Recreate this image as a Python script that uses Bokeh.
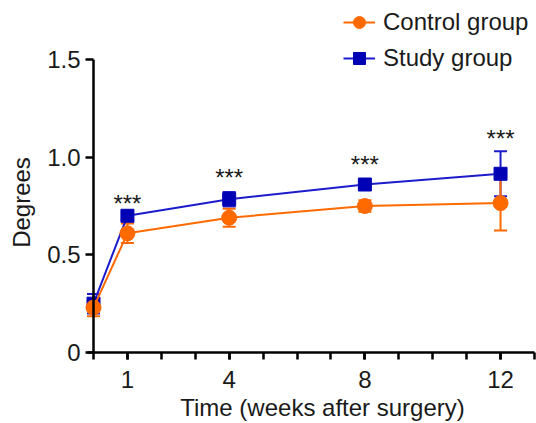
import math
from bokeh.plotting import figure
from bokeh.models import (Range1d, FixedTicker, Whisker, TeeHead, ColumnDataSource,
                          Legend, LegendItem, Label)
from bokeh.core.properties import value
from bokeh.embed import file_html
from bokeh.resources import INLINE

# ---- data ----
weeks = [0, 1, 4, 8, 12]
control_mean = [0.23, 0.61, 0.69, 0.75, 0.765]
control_err = [0.045, 0.05, 0.046, 0.03, 0.14]
study_mean = [0.25, 0.70, 0.785, 0.86, 0.915]
study_err = [0.05, 0.02, 0.037, 0.015, 0.115]

sig_weeks = [1, 4, 8, 12]
sig_text = ["***", "***", "***", "***"]
sig_y = [0.765, 0.895, 0.96, 1.095]

x_label_ticks = [1, 4, 8, 12]
x_minor_ticks = list(range(0, 14))
y_ticks = [0, 0.5, 1.0, 1.5]
y_tick_labels = ["0", "0.5", "1.0", "1.5"]
x_title = "Time (weeks after surgery)"
y_title = "Degrees"

FONT = "Liberation Sans"
ORANGE = "#ff6a00"
BLUE_LINE = "#1c1ccc"
BLUE_FILL = "#0000b4"
TEXT = "#1a1a1a"

W, H = 536, 423
p = figure(width=W, height=H, output_backend="svg", toolbar_location=None,
           x_range=Range1d(-2.742, 13.06), y_range=Range1d(-0.3635, 1.8021),
           min_border_left=0, min_border_right=0, min_border_top=0, min_border_bottom=0)
p.outline_line_color = None
p.xgrid.visible = False
p.ygrid.visible = False

def err_source(means, errs):
    return ColumnDataSource(dict(x=weeks, y=means,
                                 upper=[m + e for m, e in zip(means, errs)],
                                 lower=[m - e for m, e in zip(means, errs)]))

src_s = err_source(study_mean, study_err)
src_c = err_source(control_mean, control_err)

# study group (drawn first, underneath)
p.add_layout(Whisker(source=src_s, base="x", upper="upper", lower="lower",
                     line_color=BLUE_LINE, line_width=2,
                     upper_head=TeeHead(size=13, line_color=BLUE_LINE, line_width=2),
                     lower_head=TeeHead(size=13, line_color=BLUE_LINE, line_width=2)))
s_line = p.line("x", "y", source=src_s, line_color=BLUE_LINE, line_width=2)
s_pts = p.scatter("x", "y", source=src_s, marker="square", size=13,
                  fill_color=BLUE_FILL, line_color=BLUE_FILL)

# control group
p.add_layout(Whisker(source=src_c, base="x", upper="upper", lower="lower",
                     line_color=ORANGE, line_width=2,
                     upper_head=TeeHead(size=13, line_color=ORANGE, line_width=2),
                     lower_head=TeeHead(size=13, line_color=ORANGE, line_width=2)))
c_line = p.line("x", "y", source=src_c, line_color=ORANGE, line_width=2)
c_pts = p.scatter("x", "y", source=src_c, marker="circle", size=15,
                  fill_color=ORANGE, line_color=ORANGE)

# significance marks
p.text(x=sig_weeks, y=sig_y, text=sig_text, text_align="center",
       text_baseline="alphabetic", text_font=value(FONT),
       text_font_size="24px", text_color=TEXT)

# axes drawn at the data origin
xa = p.xaxis[0]
xa.fixed_location = 0
xa.ticker = FixedTicker(ticks=x_label_ticks, minor_ticks=x_minor_ticks)
xa.bounds = (-0.18, 13.0)
xa.major_tick_out = 7
xa.minor_tick_out = 7
xa.major_label_standoff = 12

ya = p.yaxis[0]
ya.fixed_location = 0
ya.ticker = FixedTicker(ticks=y_ticks, minor_ticks=[])
ya.major_label_overrides = {t: l for t, l in zip(y_ticks, y_tick_labels)}
ya.bounds = (0, 1.5)
ya.major_tick_out = 8
ya.minor_tick_out = 0
ya.major_label_standoff = 5

for ax in (xa, ya):
    ax.axis_line_width = 2.5
    ax.axis_line_color = "black"
    ax.major_tick_line_width = 2.5
    ax.minor_tick_line_width = 2.5
    ax.major_tick_line_color = "black"
    ax.minor_tick_line_color = "black"
    ax.major_tick_in = 0
    ax.minor_tick_in = 0
    ax.major_label_text_font = FONT
    ax.major_label_text_font_size = "24px"
    ax.major_label_text_color = TEXT

# axis titles
p.add_layout(Label(x=322, y=16, x_units="screen", y_units="screen", text=x_title,
                   text_align="center", text_baseline="alphabetic",
                   text_font=FONT, text_font_size="24px", text_color=TEXT))
p.add_layout(Label(x=21, y=221, x_units="screen", y_units="screen", text=y_title,
                   angle=math.pi / 2, text_align="center", text_baseline="alphabetic",
                   text_font=FONT, text_font_size="24px", text_color=TEXT))

legend = Legend(items=[LegendItem(label="Control group", renderers=[c_line, c_pts]),
                       LegendItem(label="Study group", renderers=[s_line, s_pts])],
                location=(343, 350), orientation="vertical",
                glyph_width=32, glyph_height=30, label_height=30, label_standoff=8,
                spacing=6, padding=0, margin=0,
                border_line_color=None, background_fill_alpha=0,
                label_text_font=FONT, label_text_font_size="24px",
                label_text_color=TEXT)
p.add_layout(legend)

open("out.html", "w").write(file_html(p, INLINE))
